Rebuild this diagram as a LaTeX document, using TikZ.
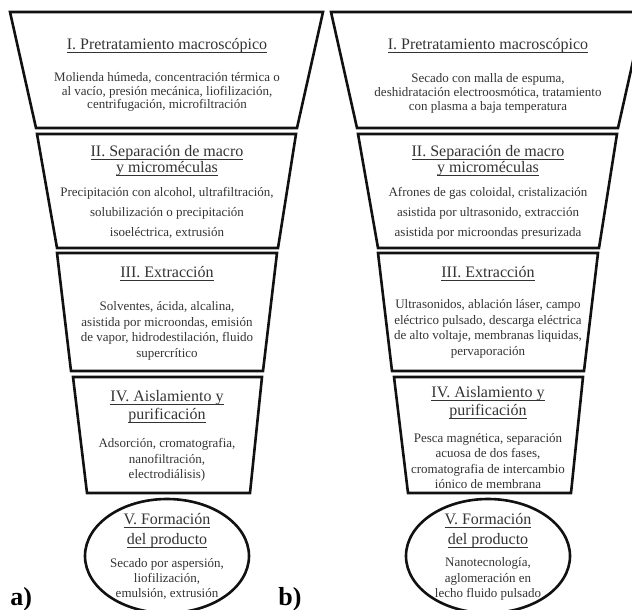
\documentclass[tikz,border=0pt]{standalone}
\usepackage{fontspec}
\setmainfont{Liberation Serif}
\usepackage{xcolor}
\usepackage{tikz}
\definecolor{ink}{HTML}{111111}
\definecolor{words}{HTML}{333333}
\newcommand{\undl}[1]{\underline{\raisebox{0pt}[\height][0pt]{#1}}}

\begin{document}
\begin{tikzpicture}[x=0.5pt,y=-0.5pt,
  stage/.style={draw=ink,line width=1.3pt,line join=miter},
  head/.style={text=words,font=\fontsize{8}{#1}\selectfont,align=center,inner sep=0pt},
  head/.default=8.5,
  body/.style={text=words,font=\fontsize{6.5}{#1}\selectfont,align=center,inner sep=0pt},
  body/.default=7.5,
  tag/.style={font=\fontsize{13}{13}\selectfont\bfseries,anchor=base west,inner sep=0pt}]
\useasboundingbox (0,0) rectangle (632,610);
\clip (0,0) rectangle (632,610);
% both funnels, the right one shifted over
\foreach \dx in {0,321}{
  \begin{scope}[shift={(\dx,0)}]
  \draw[stage] (10,12) -- (323,12) -- (297,128) -- (36,128) -- cycle;
  \draw[stage] (37,134) -- (296,134) -- (278,248) -- (57,248) -- cycle;
  \draw[stage] (57,253) -- (277,253) -- (263,371) -- (71,371) -- cycle;
  \draw[stage] (73,377) -- (262,377) -- (250,493) -- (87,493) -- cycle;
  \draw[stage] (167,556) ellipse [x radius=41pt, y radius=28.5pt];
  \end{scope}
}
% left funnel a)
\node[head] (aHeadI) at (167,46) {\undl{I. Pretratamiento macroscópico}};
\node[body=6.8] (aTextI) at (167,92) {Molienda húmeda, concentración térmica o\\al vacío, presión mecánica, liofilización,\\centrifugación, microfiltración};
\node[head=8.2] (aHeadII) at (167,161) {\undl{II. Separación de macro}\\\undl{y microméculas}};
\node[body=10] (aTextII) at (167,213) {Precipitación con alcohol, ultrafiltración,\\solubilización o precipitación\\isoeléctrica, extrusión};
\node[head] (aHeadIII) at (167,274) {\undl{III. Extracción}};
\node[body=7.8] (aTextIII) at (167,331) {Solventes, ácida, alcalina,\\asistida por microondas, emisión\\de vapor, hidrodestilación, fluido\\supercrítico};
\node[head=9] (aHeadIV) at (167,407) {\undl{IV. Aislamiento y}\\\undl{purificación}};
\node[body=7.8] (aTextIV) at (167,460) {Adsorción, cromatografia,\\nanofiltración,\\electrodiálisis)};
\node[head=10] (aHeadV) at (167,531) {\undl{V. Formación}\\\undl{del producto}};
\node[body=7.3] (aTextV) at (167,579) {Secado por aspersión,\\liofilización,\\emulsión, extrusión};
\node[tag] (aTag) at (10,605) {a)};
% right funnel b)
\node[head] (bHeadI) at (488,46) {\undl{I. Pretratamiento macroscópico}};
\node[body=7] (bTextI) at (488,93) {Secado con malla de espuma,\\deshidratación electroosmótica, tratamiento\\con plasma a baja temperatura};
\node[head=8.2] (bHeadII) at (488,161) {\undl{II. Separación de macro}\\\undl{y microméculas}};
\node[body=10] (bTextII) at (488,213) {Afrones de gas coloidal, cristalización\\asistida por ultrasonido, extracción\\asistida por microondas presurizada};
\node[head] (bHeadIII) at (488,274) {\undl{III. Extracción}};
\node[body=7.8] (bTextIII) at (488,329) {Ultrasonidos, ablación láser, campo\\eléctrico pulsado, descarga eléctrica\\de alto voltaje, membranas liquidas,\\pervaporación};
\node[head=9] (bHeadIV) at (488,403) {\undl{IV. Aislamiento y}\\\undl{purificación}};
\node[body=7.8] (bTextIV) at (488,461) {Pesca magnética, separación\\acuosa de dos fases,\\cromatografia de intercambio\\iónico de membrana};
\node[head=10] (bHeadV) at (488,531) {\undl{V. Formación}\\\undl{del producto}};
\node[body=7.6] (bTextV) at (488,579) {Nanotecnología,\\aglomeración en\\lecho fluido pulsado};
\node[tag] (bTag) at (278,605) {b)};
\end{tikzpicture}
\end{document}
